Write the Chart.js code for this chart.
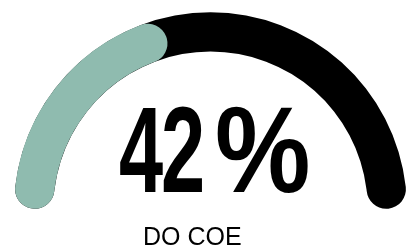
<!DOCTYPE html>
<html>
<head>
<meta charset="utf-8">
<script src="https://cdn.jsdelivr.net/npm/chart.js@4/dist/chart.umd.min.js"></script>
<style>
  html, body { margin: 0; padding: 0; background: #fff; }
  #wrap { position: relative; width: 411px; height: 249px; overflow: hidden; }
  #gauge { position: absolute; left: 0; top: 0; }
  .big {
    position: absolute; top: 89px; font-family: "Liberation Sans Narrow", "Liberation Sans", sans-serif;
    font-weight: bold; font-size: 122px; line-height: 1; color: #000;
    transform-origin: 0 0; white-space: nowrap;
  }
  #label {
    position: absolute; left: 143px; top: 224px; font-family: "Liberation Sans", Arial, sans-serif;
    font-size: 25px; line-height: 1; color: #000; white-space: nowrap;
  }
</style>
</head>
<body>
<div id="wrap">
  <canvas id="gauge" width="411" height="249"></canvas>
  <div id="value"><span class="big" id="d1" style="left:119px;transform:scaleX(0.65)">4</span><span class="big" id="d2" style="left:161px;transform:scaleX(0.65)">2</span><span class="big" id="pct" style="left:215px;transform:scaleX(0.88)">%</span></div>
  <div id="label">DO COE</div>
</div>
<script>
const categories = ['DO COE', 'Restante'];
const values = [42, 58];
const colors = ['#8fbbaf', '#000000'];

const ctx = document.getElementById('gauge').getContext('2d');

// black track drawn under the value arc, same geometry as the dataset
const gaugeTrack = {
    id: 'gaugeTrack',
    beforeDatasetsDraw(chart) {
        const arc = chart.getDatasetMeta(0).data[0];
        if (!arc) return;
        const ArcEl = Chart.ArcElement || Chart.registry.getElement('arc');
        const track = new ArcEl({
            x: arc.x,
            y: arc.y,
            startAngle: -Math.PI,
            endAngle: 0,
            circumference: Math.PI,
            innerRadius: arc.innerRadius,
            outerRadius: arc.outerRadius,
            options: {
                backgroundColor: colors[1],
                borderColor: colors[1],
                borderWidth: 0,
                borderRadius: 20,
                borderAlign: 'center',
                borderDash: [],
                borderDashOffset: 0,
                spacing: 0,
                offset: 0,
                circular: true
            }
        });
        track.draw(chart.ctx);
    }
};

const gaugeChart = new Chart(ctx, {
    type: 'doughnut',
    data: {
        labels: categories,
        datasets: [{
            data: values,
            backgroundColor: [colors[0], 'rgba(0,0,0,0)'],
            borderWidth: 0,
            borderRadius: [20, 0]
        }]
    },
    options: {
        responsive: false,
        animation: false,
        rotation: -90,
        circumference: 180,
        cutout: '80%',
        layout: {
            padding: { left: 14, right: 4, top: 12, bottom: 40 }
        },
        plugins: {
            legend: { display: false },
            tooltip: { enabled: false }
        }
    },
    plugins: [gaugeTrack]
});
</script>
</body>
</html>
